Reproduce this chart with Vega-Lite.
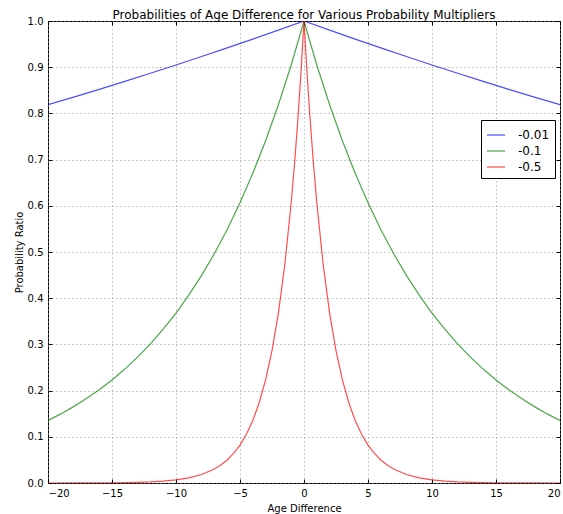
{
  "$schema": "https://vega.github.io/schema/vega-lite/v6.json",
  "width": 512,
  "height": 462,
  "autosize": {"type": "none"},
  "padding": {"left": 48, "top": 21, "right": 3, "bottom": 31},
  "background": "white",
  "config": {
    "font": "DejaVu Sans",
    "view": {"stroke": "black", "strokeWidth": 1},
    "axis": {
      "domain": false,
      "ticks": true,
      "tickSize": -4,
      "tickColor": "black",
      "tickWidth": 1,
      "grid": true,
      "gridColor": "#999999",
      "gridDash": [1, 3],
      "gridWidth": 1,
      "labelFont": "DejaVu Sans",
      "labelFontSize": 10,
      "labelColor": "black",
      "titleFont": "DejaVu Sans",
      "titleFontSize": 10,
      "titleFontWeight": "normal",
      "titleColor": "black"
    },
    "title": {"font": "DejaVu Sans", "fontSize": 12, "fontWeight": "normal", "color": "black", "offset": -6},
    "legend": {
      "labelFont": "DejaVu Sans",
      "labelFontSize": 12,
      "labelColor": "black"
    }
  },
  "title": "Probabilities of Age Difference for Various Probability Multipliers",
  "data": {
    "values": [
      {"x": -20, "y": 0.81873, "k": "-0.01"},
      {"x": -18, "y": 0.83527, "k": "-0.01"},
      {"x": -16, "y": 0.85214, "k": "-0.01"},
      {"x": -14, "y": 0.86936, "k": "-0.01"},
      {"x": -12, "y": 0.88692, "k": "-0.01"},
      {"x": -10, "y": 0.90484, "k": "-0.01"},
      {"x": -8, "y": 0.92312, "k": "-0.01"},
      {"x": -6, "y": 0.94176, "k": "-0.01"},
      {"x": -4, "y": 0.96079, "k": "-0.01"},
      {"x": -2, "y": 0.98020, "k": "-0.01"},
      {"x": 0, "y": 1.0, "k": "-0.01"},
      {"x": 2, "y": 0.98020, "k": "-0.01"},
      {"x": 4, "y": 0.96079, "k": "-0.01"},
      {"x": 6, "y": 0.94176, "k": "-0.01"},
      {"x": 8, "y": 0.92312, "k": "-0.01"},
      {"x": 10, "y": 0.90484, "k": "-0.01"},
      {"x": 12, "y": 0.88692, "k": "-0.01"},
      {"x": 14, "y": 0.86936, "k": "-0.01"},
      {"x": 16, "y": 0.85214, "k": "-0.01"},
      {"x": 18, "y": 0.83527, "k": "-0.01"},
      {"x": 20, "y": 0.81873, "k": "-0.01"},

      {"x": -20, "y": 0.13534, "k": "-0.1"},
      {"x": -19, "y": 0.14957, "k": "-0.1"},
      {"x": -18, "y": 0.16530, "k": "-0.1"},
      {"x": -17, "y": 0.18268, "k": "-0.1"},
      {"x": -16, "y": 0.20190, "k": "-0.1"},
      {"x": -15, "y": 0.22313, "k": "-0.1"},
      {"x": -14, "y": 0.24660, "k": "-0.1"},
      {"x": -13, "y": 0.27253, "k": "-0.1"},
      {"x": -12, "y": 0.30119, "k": "-0.1"},
      {"x": -11, "y": 0.33287, "k": "-0.1"},
      {"x": -10, "y": 0.36788, "k": "-0.1"},
      {"x": -9, "y": 0.40657, "k": "-0.1"},
      {"x": -8, "y": 0.44933, "k": "-0.1"},
      {"x": -7, "y": 0.49659, "k": "-0.1"},
      {"x": -6, "y": 0.54881, "k": "-0.1"},
      {"x": -5, "y": 0.60653, "k": "-0.1"},
      {"x": -4, "y": 0.67032, "k": "-0.1"},
      {"x": -3, "y": 0.74082, "k": "-0.1"},
      {"x": -2, "y": 0.81873, "k": "-0.1"},
      {"x": -1, "y": 0.90484, "k": "-0.1"},
      {"x": 0, "y": 1.0, "k": "-0.1"},
      {"x": 1, "y": 0.90484, "k": "-0.1"},
      {"x": 2, "y": 0.81873, "k": "-0.1"},
      {"x": 3, "y": 0.74082, "k": "-0.1"},
      {"x": 4, "y": 0.67032, "k": "-0.1"},
      {"x": 5, "y": 0.60653, "k": "-0.1"},
      {"x": 6, "y": 0.54881, "k": "-0.1"},
      {"x": 7, "y": 0.49659, "k": "-0.1"},
      {"x": 8, "y": 0.44933, "k": "-0.1"},
      {"x": 9, "y": 0.40657, "k": "-0.1"},
      {"x": 10, "y": 0.36788, "k": "-0.1"},
      {"x": 11, "y": 0.33287, "k": "-0.1"},
      {"x": 12, "y": 0.30119, "k": "-0.1"},
      {"x": 13, "y": 0.27253, "k": "-0.1"},
      {"x": 14, "y": 0.24660, "k": "-0.1"},
      {"x": 15, "y": 0.22313, "k": "-0.1"},
      {"x": 16, "y": 0.20190, "k": "-0.1"},
      {"x": 17, "y": 0.18268, "k": "-0.1"},
      {"x": 18, "y": 0.16530, "k": "-0.1"},
      {"x": 19, "y": 0.14957, "k": "-0.1"},
      {"x": 20, "y": 0.13534, "k": "-0.1"},

      {"x": -20, "y": 0.00005, "k": "-0.5"},
      {"x": -18, "y": 0.00012, "k": "-0.5"},
      {"x": -16, "y": 0.00034, "k": "-0.5"},
      {"x": -15, "y": 0.00055, "k": "-0.5"},
      {"x": -14, "y": 0.00091, "k": "-0.5"},
      {"x": -13, "y": 0.00150, "k": "-0.5"},
      {"x": -12, "y": 0.00248, "k": "-0.5"},
      {"x": -11, "y": 0.00409, "k": "-0.5"},
      {"x": -10, "y": 0.00674, "k": "-0.5"},
      {"x": -9, "y": 0.01111, "k": "-0.5"},
      {"x": -8, "y": 0.01832, "k": "-0.5"},
      {"x": -7, "y": 0.03020, "k": "-0.5"},
      {"x": -6.5, "y": 0.03877, "k": "-0.5"},
      {"x": -6, "y": 0.04979, "k": "-0.5"},
      {"x": -5.5, "y": 0.06393, "k": "-0.5"},
      {"x": -5, "y": 0.08208, "k": "-0.5"},
      {"x": -4.5, "y": 0.10540, "k": "-0.5"},
      {"x": -4, "y": 0.13534, "k": "-0.5"},
      {"x": -3.5, "y": 0.17377, "k": "-0.5"},
      {"x": -3, "y": 0.22313, "k": "-0.5"},
      {"x": -2.5, "y": 0.28650, "k": "-0.5"},
      {"x": -2, "y": 0.36788, "k": "-0.5"},
      {"x": -1.5, "y": 0.47237, "k": "-0.5"},
      {"x": -1, "y": 0.60653, "k": "-0.5"},
      {"x": -0.75, "y": 0.68729, "k": "-0.5"},
      {"x": -0.5, "y": 0.77880, "k": "-0.5"},
      {"x": -0.25, "y": 0.88250, "k": "-0.5"},
      {"x": 0, "y": 1.0, "k": "-0.5"},
      {"x": 0.25, "y": 0.88250, "k": "-0.5"},
      {"x": 0.5, "y": 0.77880, "k": "-0.5"},
      {"x": 0.75, "y": 0.68729, "k": "-0.5"},
      {"x": 1, "y": 0.60653, "k": "-0.5"},
      {"x": 1.5, "y": 0.47237, "k": "-0.5"},
      {"x": 2, "y": 0.36788, "k": "-0.5"},
      {"x": 2.5, "y": 0.28650, "k": "-0.5"},
      {"x": 3, "y": 0.22313, "k": "-0.5"},
      {"x": 3.5, "y": 0.17377, "k": "-0.5"},
      {"x": 4, "y": 0.13534, "k": "-0.5"},
      {"x": 4.5, "y": 0.10540, "k": "-0.5"},
      {"x": 5, "y": 0.08208, "k": "-0.5"},
      {"x": 5.5, "y": 0.06393, "k": "-0.5"},
      {"x": 6, "y": 0.04979, "k": "-0.5"},
      {"x": 6.5, "y": 0.03877, "k": "-0.5"},
      {"x": 7, "y": 0.03020, "k": "-0.5"},
      {"x": 8, "y": 0.01832, "k": "-0.5"},
      {"x": 9, "y": 0.01111, "k": "-0.5"},
      {"x": 10, "y": 0.00674, "k": "-0.5"},
      {"x": 11, "y": 0.00409, "k": "-0.5"},
      {"x": 12, "y": 0.00248, "k": "-0.5"},
      {"x": 13, "y": 0.00150, "k": "-0.5"},
      {"x": 14, "y": 0.00091, "k": "-0.5"},
      {"x": 15, "y": 0.00055, "k": "-0.5"},
      {"x": 16, "y": 0.00034, "k": "-0.5"},
      {"x": 18, "y": 0.00012, "k": "-0.5"},
      {"x": 20, "y": 0.00005, "k": "-0.5"}
    ]
  },
  "layer": [
    {
      "mark": {"type": "line", "strokeWidth": 1.2, "opacity": 0.7, "clip": true},
      "encoding": {
        "x": {
          "field": "x",
          "type": "quantitative",
          "scale": {"domain": [-20, 20], "nice": false},
          "axis": {"title": "Age Difference", "values": [-20, -15, -10, -5, 0, 5, 10, 15, 20], "labelPadding": 9, "titlePadding": 5}
        },
        "y": {
          "field": "y",
          "type": "quantitative",
          "scale": {"domain": [0, 1], "nice": false},
          "axis": {"title": "Probability Ratio", "values": [0, 0.1, 0.2, 0.3, 0.4, 0.5, 0.6, 0.7, 0.8, 0.9, 1.0], "format": ".1f", "labelPadding": 9, "titlePadding": 3}
        },
        "color": {
          "field": "k",
          "type": "nominal",
          "scale": {"domain": ["-0.01", "-0.1", "-0.5"], "range": ["#0000ff", "#008000", "#ff0000"]},
          "legend": {
            "title": null,
            "orient": "none",
            "legendX": 433,
            "legendY": 99,
            "symbolType": "stroke",
            "symbolSize": 324,
            "symbolStrokeWidth": 1.2,
            "symbolOpacity": 0.7,
            "labelOffset": 12,
            "padding": 5,
            "rowPadding": 0,
            "strokeColor": "black",
            "fillColor": "white",
            "cornerRadius": 0
          }
        }
      }
    },
    {
      "mark": {"type": "line", "opacity": 0, "clip": true},
      "encoding": {
        "x": {
          "field": "x",
          "type": "quantitative",
          "axis": {"orient": "top", "title": null, "labels": false, "grid": false, "values": [-20, -15, -10, -5, 0, 5, 10, 15, 20]}
        },
        "y": {
          "field": "y",
          "type": "quantitative",
          "axis": {"orient": "right", "title": null, "labels": false, "grid": false, "values": [0, 0.1, 0.2, 0.3, 0.4, 0.5, 0.6, 0.7, 0.8, 0.9, 1.0]}
        },
        "detail": {"field": "k"}
      }
    }
  ],
  "resolve": {"axis": {"x": "independent", "y": "independent"}}
}
